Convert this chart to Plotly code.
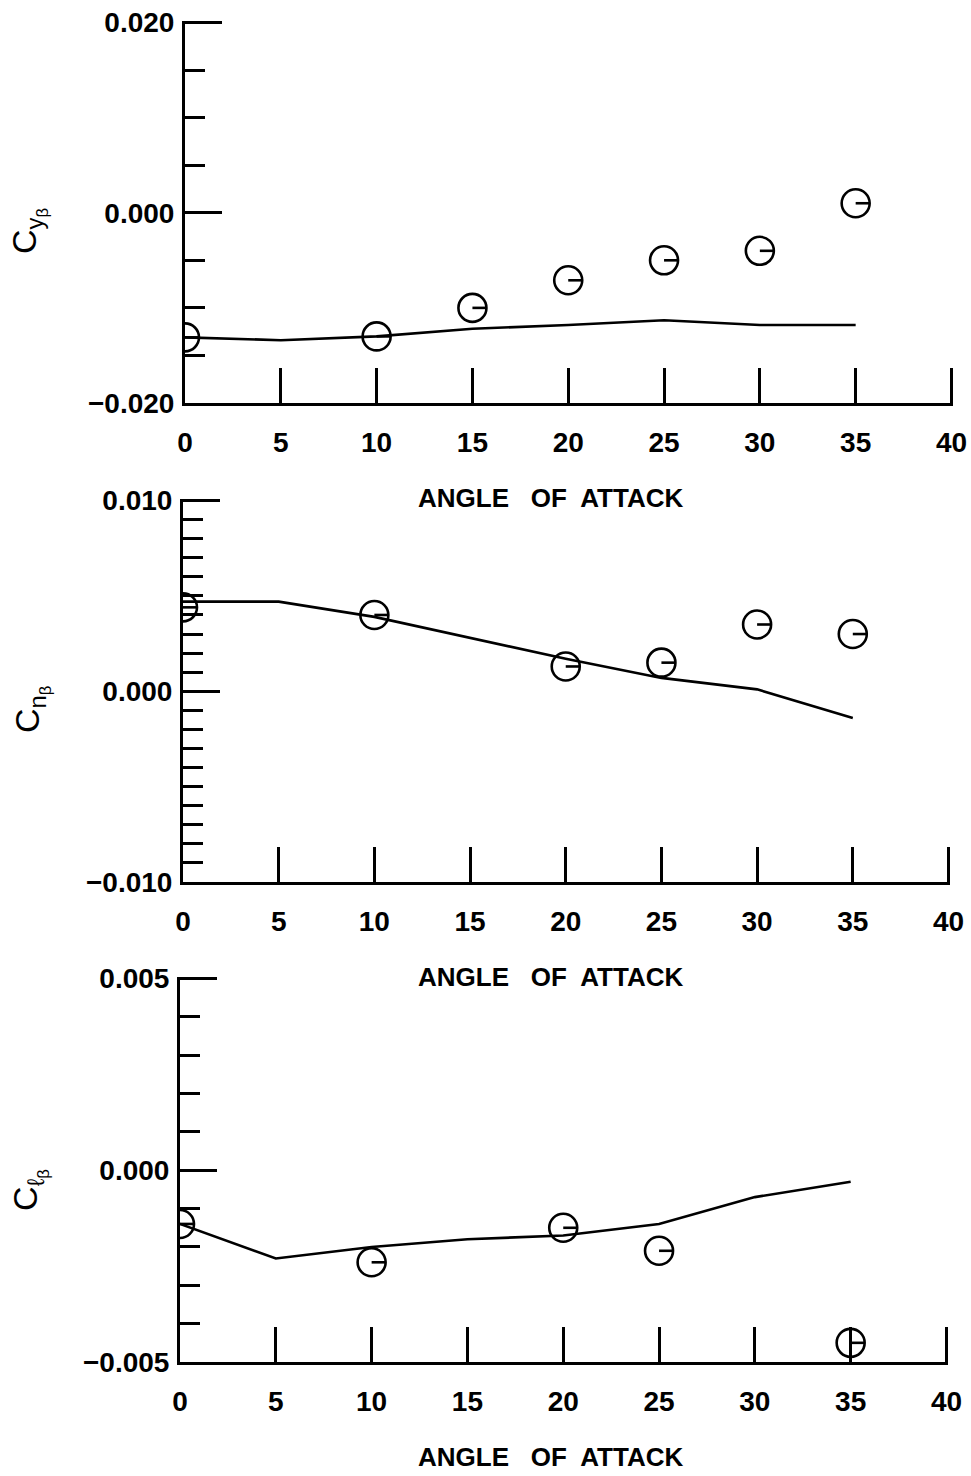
import plotly.graph_objects as go

# Angle of attack (deg) where the computed curves are evaluated
alpha_calc = [0, 5, 10, 15, 20, 25, 30, 35]

# Side-force derivative
alpha_cy_exp = [0, 10, 15, 20, 25, 30, 35]
cy_exp = [-0.0131, -0.0130, -0.0100, -0.0071, -0.0050, -0.0040, 0.0010]
cy_calc = [-0.0131, -0.0134, -0.0130, -0.0122, -0.0118, -0.0113, -0.0118, -0.0118]

# Yawing-moment derivative
alpha_cn_exp = [0, 10, 20, 25, 30, 35]
cn_exp = [0.0044, 0.0040, 0.0013, 0.0015, 0.0035, 0.0030]
cn_calc = [0.0047, 0.0047, 0.0039, 0.0028, 0.0017, 0.0007, 0.0001, -0.0014]

# Rolling-moment derivative
alpha_cl_exp = [0, 10, 20, 25, 35]
cl_exp = [-0.0014, -0.0024, -0.0015, -0.0021, -0.0045]
cl_flag = [False, False, False, False, True]
cl_calc = [-0.0014, -0.0023, -0.0020, -0.0018, -0.0017, -0.0014, -0.0007, -0.0003]

y_titles = ["C<sub>y<sub>β</sub></sub>", "C<sub>n<sub>β</sub></sub>", "C<sub>ℓ<sub>β</sub></sub>"]
x_title = "ANGLE\u00a0\u00a0 OF\u00a0 ATTACK"

W, H = 971, 1476
FONT = "Liberation Sans, Arial, sans-serif"
MSIZE = 28
LW = 2.6
AXW = 3

# plot-area boxes in pixels: (left, right, top, bottom)
boxes = [(185, 953, 21, 403), (183, 950, 499, 882), (180, 948, 977, 1362)]
y_ranges = [(-0.020, 0.020), (-0.010, 0.010), (-0.005, 0.005)]
y_minor = [0.005, 0.001, 0.001]
title_pos = [(28, 231), (31, 710), (29, 1190)]

panels = [
    (alpha_cy_exp, cy_exp, cy_calc, [False] * len(cy_exp)),
    (alpha_cn_exp, cn_exp, cn_calc, [False] * len(cn_exp)),
    (alpha_cl_exp, cl_exp, cl_calc, cl_flag),
]

fig = go.Figure()
shapes = []
annotations = []
layout = {}

for i, (ax_exp, v_exp, v_calc, flags) in enumerate(panels):
    n = "" if i == 0 else str(i + 1)
    xref, yref = "x" + n, "y" + n
    left, right, top, bottom = boxes[i]

    fig.add_trace(go.Scatter(
        x=alpha_calc, y=v_calc, mode="lines", xaxis=xref, yaxis=yref,
        line=dict(color="black", width=2.6), showlegend=False,
    ))
    fig.add_trace(go.Scatter(
        x=ax_exp, y=v_exp, mode="markers", xaxis=xref, yaxis=yref,
        marker=dict(symbol="circle-open", size=MSIZE, color="black",
                    line=dict(color="black", width=LW)),
        cliponaxis=True, showlegend=False,
    ))
    # flag tick from the centre of each symbol to its right edge
    for xv, yv, fl in zip(ax_exp, v_exp, flags):
        shapes.append(dict(
            type="line", xref=xref, yref=yref, xsizemode="pixel", xanchor=xv,
            x0=0, x1=MSIZE / 2, y0=yv, y1=yv, line=dict(color="black", width=LW),
        ))
        if fl:
            shapes.append(dict(
                type="line", xref=xref, yref=yref, ysizemode="pixel", yanchor=yv,
                x0=xv, x1=xv, y0=-MSIZE / 2, y1=MSIZE / 2,
                line=dict(color="black", width=LW),
            ))

    lo, hi = y_ranges[i]
    span = hi - lo
    # upper ends run a hair past the last tick so the end ticks are still drawn
    layout["xaxis" + n] = dict(
        domain=[left / W, right / W], anchor=yref, range=[0, 40.08],
        dtick=5, tick0=0, ticks="inside", ticklen=35, tickwidth=AXW, tickcolor="black",
        showline=True, linewidth=AXW, linecolor="black", showgrid=False, zeroline=False,
        tickfont=dict(family=FONT, size=28, color="black", weight="bold"),
        ticklabelstandoff=12, automargin=False,
    )
    layout["yaxis" + n] = dict(
        domain=[1 - bottom / H, 1 - top / H], anchor=xref,
        range=[lo, hi + span * 0.004],
        tickvals=[lo, 0, hi], tickformat=".3f", ticks="inside", ticklen=37,
        tickwidth=AXW, tickcolor="black",
        minor=dict(dtick=y_minor[i], tick0=0, ticks="inside", ticklen=20,
                   tickwidth=AXW, tickcolor="black"),
        showline=True, linewidth=AXW, linecolor="black", showgrid=False, zeroline=False,
        tickfont=dict(family=FONT, size=28, color="black", weight="bold"),
        ticklabelstandoff=2, automargin=False,
    )

    tx, ty = title_pos[i]
    annotations.append(dict(
        text=y_titles[i], xref="paper", yref="paper", x=tx / W, y=1 - ty / H,
        showarrow=False, textangle=-90, xanchor="center", yanchor="middle",
        font=dict(family=FONT, size=34, color="black"),
    ))
    annotations.append(dict(
        text=x_title, xref="paper", yref="paper", x=550 / W, y=1 - (bottom + 95) / H,
        showarrow=False, xanchor="center", yanchor="middle",
        font=dict(family=FONT, size=26, color="black", weight="bold"),
    ))

fig.update_layout(
    width=W, height=H, margin=dict(l=0, r=0, t=0, b=0, autoexpand=False),
    paper_bgcolor="white", plot_bgcolor="white",
    shapes=shapes, annotations=annotations, **layout,
)

fig.write_html("out.html")
